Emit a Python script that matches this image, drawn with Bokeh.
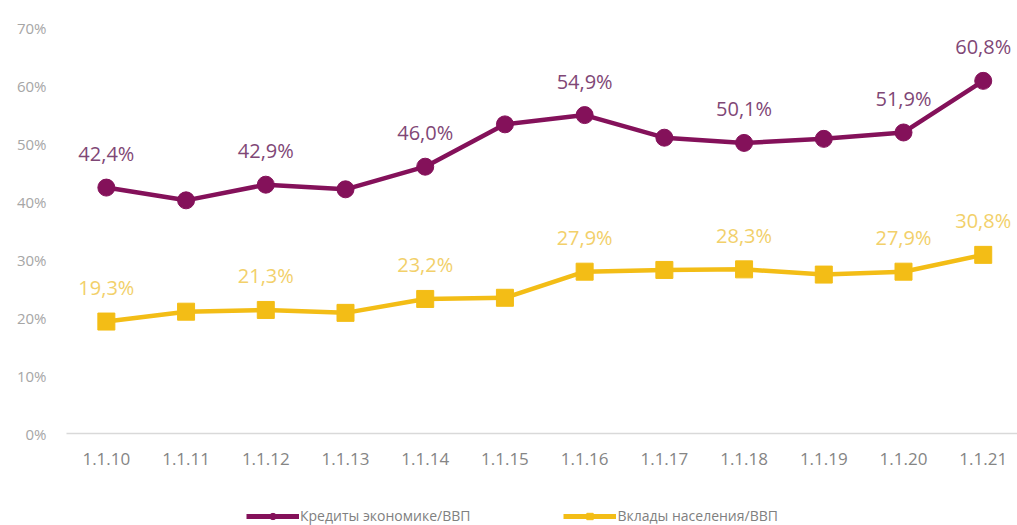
from bokeh.plotting import figure
from bokeh.layouts import column
from bokeh.models import ColumnDataSource, Range1d, FixedTicker, Legend, LegendItem
from bokeh.core.properties import value
from bokeh.embed import file_html
from bokeh.resources import INLINE

categories = ["1.1.10", "1.1.11", "1.1.12", "1.1.13", "1.1.14", "1.1.15",
              "1.1.16", "1.1.17", "1.1.18", "1.1.19", "1.1.20", "1.1.21"]
credits = [42.4, 40.2, 42.9, 42.1, 46.0, 53.3, 54.9, 51.0, 50.1, 50.8, 51.9, 60.8]
deposits = [19.3, 21.0, 21.3, 20.8, 23.2, 23.4, 27.9, 28.2, 28.3, 27.4, 27.9, 30.8]
labeled = [0, 2, 4, 6, 8, 10, 11]
y_ticks = [0, 10, 20, 30, 40, 50, 60, 70]

name_credits = "Кредиты экономике/ВВП"
name_deposits = "Вклады населения/ВВП"

PURPLE = "#84115A"
PURPLE_TXT = "#7F4776"
YELLOW = "#F3BD16"
YELLOW_TXT = "#F2D06A"
FONT = "Open Sans"

x = list(range(len(categories)))

def fmt(v):
    return f"{v:.1f}".replace(".", ",") + "%"

src_c = ColumnDataSource(dict(x=x, y=credits))
src_d = ColumnDataSource(dict(x=x, y=deposits))
lab_c = ColumnDataSource(dict(x=[x[i] for i in labeled], y=[credits[i] for i in labeled],
                              t=[fmt(credits[i]) for i in labeled]))
lab_d = ColumnDataSource(dict(x=[x[i] for i in labeled], y=[deposits[i] for i in labeled],
                              t=[fmt(deposits[i]) for i in labeled]))

p = figure(width=1017, height=480, output_backend="svg", toolbar_location=None,
           x_range=Range1d(-0.5, 11.43), y_range=Range1d(0, 70),
           min_border_left=66, min_border_right=0, min_border_top=27, min_border_bottom=47)
p.outline_line_color = None
p.background_fill_color = "white"
p.border_fill_color = "white"
p.xgrid.visible = False
p.ygrid.visible = False

lc = p.line("x", "y", source=src_c, line_color=PURPLE, line_width=4.5)
sc = p.scatter("x", "y", source=src_c, marker="circle", size=17,
               fill_color=PURPLE, line_color=PURPLE)
ld = p.line("x", "y", source=src_d, line_color=YELLOW, line_width=4.5)
sd = p.scatter("x", "y", source=src_d, marker="square", size=17,
               fill_color=YELLOW, line_color=YELLOW)

p.text("x", "y", text="t", source=lab_c, text_color=PURPLE_TXT, text_font=value(FONT),
       text_font_size="20px", text_align="center", text_baseline="middle", y_offset=-34)
p.text("x", "y", text="t", source=lab_d, text_color=YELLOW_TXT, text_font=value(FONT),
       text_font_size="20px", text_align="center", text_baseline="middle", y_offset=-34)

p.xaxis.ticker = FixedTicker(ticks=x)
p.xaxis.major_label_overrides = {i: c for i, c in enumerate(categories)}
p.xaxis.axis_line_color = "#D9D9D9"
p.xaxis.axis_line_width = 1.5
p.xaxis.major_tick_line_color = None
p.xaxis.minor_tick_line_color = None
p.xaxis.major_tick_out = 0
p.xaxis.minor_tick_out = 0
p.xaxis.major_label_text_color = "#858585"
p.xaxis.major_label_text_font = FONT
p.xaxis.major_label_text_font_size = "17px"
p.xaxis.major_label_standoff = 19

p.yaxis.ticker = FixedTicker(ticks=y_ticks)
p.yaxis.major_label_overrides = {t: f"{t}%" for t in y_ticks}
p.yaxis.axis_line_color = None
p.yaxis.major_tick_line_color = None
p.yaxis.minor_tick_line_color = None
p.yaxis.major_tick_out = 0
p.yaxis.minor_tick_out = 0
p.yaxis.major_label_text_color = "#A6A6A6"
p.yaxis.major_label_text_font = FONT
p.yaxis.major_label_text_font_size = "15px"
p.yaxis.major_label_standoff = 20

# legend strip: same series drawn into a range where they are out of view,
# so that only the legend glyphs appear
pl = figure(width=1017, height=45, output_backend="svg", toolbar_location=None,
            x_range=Range1d(-0.5, 11.43), y_range=Range1d(-20, -10),
            x_axis_location=None, y_axis_location=None,
            min_border_left=66, min_border_right=0, min_border_top=0, min_border_bottom=0)
pl.outline_line_color = None
pl.grid.visible = False
glc = pl.line("x", "y", source=src_c, line_color=PURPLE, line_width=5)
gsc = pl.scatter("x", "y", source=src_c, marker="circle", size=17,
                 fill_color=PURPLE, line_color=PURPLE)
gld = pl.line("x", "y", source=src_d, line_color=YELLOW, line_width=5)
gsd = pl.scatter("x", "y", source=src_d, marker="square", size=17,
                 fill_color=YELLOW, line_color=YELLOW)

legend = Legend(items=[LegendItem(label=name_credits, renderers=[glc, gsc]),
                       LegendItem(label=name_deposits, renderers=[gld, gsd])],
                orientation="horizontal", location=(180, 0),
                label_text_font=FONT, label_text_font_size="14px",
                label_text_color="#7F7F7F", glyph_width=53, glyph_height=16,
                label_standoff=1, spacing=93, border_line_color=None,
                background_fill_alpha=0, margin=0, padding=2)
pl.add_layout(legend)

layout = column(p, pl, spacing=0)
open("out.html", "w").write(file_html(layout, INLINE))
